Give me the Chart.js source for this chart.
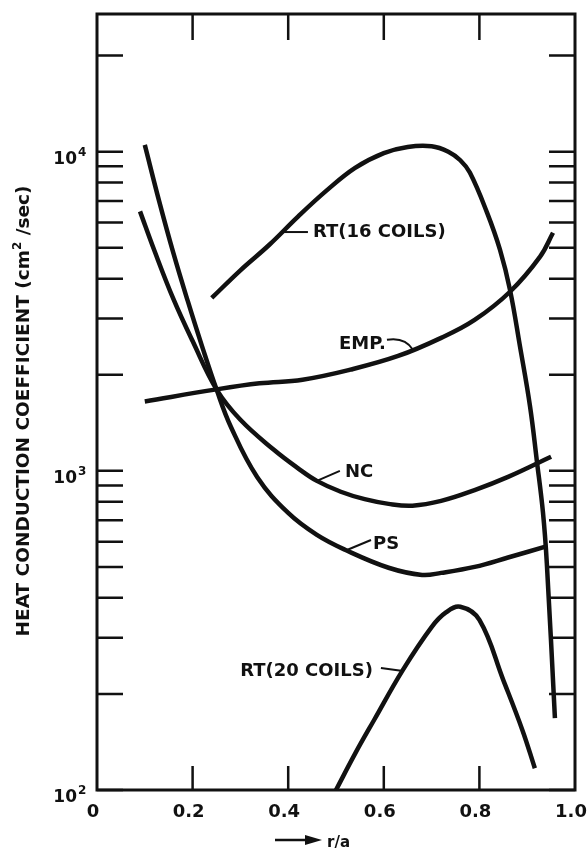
<!DOCTYPE html>
<html>
<head>
<meta charset="utf-8">
<script src="https://cdn.jsdelivr.net/npm/chart.js@4.4.1/dist/chart.umd.min.js"></script>
<style>
  html, body { margin: 0; padding: 0; background: #fff; }
  canvas { display: block; }
</style>
</head>
<body>
<canvas id="heatChart" width="588" height="854"></canvas>
<script>
'use strict';

/* data */
var psX = [0.10, 0.13, 0.16, 0.19, 0.22, 0.25, 0.28, 0.335, 0.40, 0.46, 0.52, 0.61, 0.68, 0.72, 0.79, 0.86, 0.94];
var psY = [10500, 7000, 4800, 3400, 2450, 1800, 1375, 957, 738, 630, 565, 497, 472, 479, 500, 535, 580];

var ncX = [0.09, 0.12, 0.16, 0.20, 0.25, 0.30, 0.37, 0.42, 0.46, 0.51, 0.56, 0.61, 0.66, 0.72, 0.79, 0.86, 0.95];
var ncY = [6500, 4900, 3450, 2550, 1800, 1445, 1164, 1020, 930, 860, 815, 788, 778, 805, 870, 957, 1107];

var empX = [0.10, 0.25, 0.34, 0.43, 0.53, 0.63, 0.72, 0.79, 0.864, 0.927, 0.954];
var empY = [1650, 1800, 1880, 1930, 2075, 2290, 2610, 2970, 3640, 4690, 5570];

var rt16X = [0.24, 0.30, 0.36, 0.42, 0.48, 0.54, 0.60, 0.65, 0.70, 0.735, 0.76, 0.78, 0.816, 0.843, 0.864, 0.885, 0.906, 0.92, 0.933, 0.941, 0.958];
var rt16Y = [3480, 4250, 5100, 6250, 7550, 8900, 9900, 10350, 10400, 10000, 9400, 8600, 6440, 4930, 3690, 2450, 1590, 1080, 740, 515, 168];

var rt20X = [0.50, 0.54, 0.58, 0.64, 0.70, 0.73, 0.76, 0.80, 0.85, 0.89, 0.916];
var rt20Y = [100, 130, 166, 238, 324, 360, 375, 341, 221, 154, 117];

var xTicks = [0, 0.2, 0.4, 0.6, 0.8, 1.0];
var xTickLabels = ['0', '0.2', '0.4', '0.6', '0.8', '1.0'];
var yMajor = [100, 1000, 10000];
var yMajorExp = ['2', '3', '4'];
var yMinor = [200, 300, 400, 500, 600, 700, 800, 900,
              2000, 3000, 4000, 5000, 6000, 7000, 8000, 9000, 20000];

var yTitle = ['HEAT CONDUCTION COEFFICIENT (cm', '2', ' /sec)'];
var xTitle = 'r/a';

function pts(xs, ys) {
  return xs.map(function(x, i) { return {x: x, y: ys[i]}; });
}

var INK = '#111';
var FONT = '"DejaVu Sans", sans-serif';

/* curve labels: anchor on curve (data), leader and text offsets in px */
var curveLabels = [
  {text: 'RT(16 COILS)', x: 0.389, y: 5600, lead: [25, 0], tx: 30, ty: 0, align: 'left'},
  {text: 'EMP.', x: 0.661, y: 2395, curl: true, tx: -27, ty: -5, align: 'right'},
  {text: 'NC', x: 0.46, y: 930, lead: [23, -10], tx: 28, ty: -9, align: 'left'},
  {text: 'PS', x: 0.523, y: 565, lead: [24, -10], tx: 26, ty: -6, align: 'left'},
  {text: 'RT(20 COILS)', x: 0.640, y: 236, lead: [-22, -3], tx: -30, ty: 0, align: 'right'}
];

var decor = {
  id: 'decor',
  afterDraw: function(chart) {
    var ctx = chart.ctx;
    var a = chart.chartArea;
    var xs = chart.scales.x, ys = chart.scales.y;
    ctx.save();
    ctx.strokeStyle = INK;
    ctx.fillStyle = INK;
    ctx.lineCap = 'butt';

    // frame
    ctx.lineWidth = 3;
    ctx.strokeRect(a.left, a.top, a.right - a.left, a.bottom - a.top);

    // inside ticks, left + right
    ctx.lineWidth = 2.5;
    yMajor.concat(yMinor).forEach(function(v) {
      var py = ys.getPixelForValue(v);
      ctx.beginPath();
      ctx.moveTo(a.left, py); ctx.lineTo(a.left + 26, py);
      ctx.moveTo(a.right, py); ctx.lineTo(a.right - 26, py);
      ctx.stroke();
    });
    // inside ticks, top + bottom
    xTicks.slice(1, -1).forEach(function(v) {
      var px = xs.getPixelForValue(v);
      ctx.beginPath();
      ctx.moveTo(px, a.bottom); ctx.lineTo(px, a.bottom - 24);
      ctx.moveTo(px, a.top); ctx.lineTo(px, a.top + 26);
      ctx.stroke();
    });

    // x tick labels
    ctx.font = 'bold 18px ' + FONT;
    ctx.textAlign = 'center';
    ctx.textBaseline = 'alphabetic';
    xTicks.forEach(function(v, i) {
      ctx.fillText(xTickLabels[i], xs.getPixelForValue(v) - 4, a.bottom + 27);
    });

    // y tick labels 10^n
    yMajor.forEach(function(v, i) {
      var py = ys.getPixelForValue(v);
      ctx.font = 'bold 17px ' + FONT;
      ctx.textAlign = 'right';
      ctx.fillText('10', 77, py + 12);
      ctx.font = 'bold 12px ' + FONT;
      ctx.textAlign = 'left';
      ctx.fillText(yMajorExp[i], 78, py + 4);
    });

    // y title, rotated
    ctx.save();
    ctx.translate(29, 411);
    ctx.rotate(-Math.PI / 2);
    ctx.textAlign = 'left';
    var big = 'bold 18.5px ' + FONT, small = 'bold 12px ' + FONT;
    ctx.font = big;
    var w0 = ctx.measureText(yTitle[0]).width;
    var w2 = ctx.measureText(yTitle[2]).width;
    ctx.font = small;
    var w1 = ctx.measureText(yTitle[1]).width;
    var sx = -(w0 + w1 + w2) / 2;
    ctx.font = big;
    ctx.fillText(yTitle[0], sx, 0);
    ctx.font = small;
    ctx.fillText(yTitle[1], sx + w0, -8);
    ctx.font = big;
    ctx.fillText(yTitle[2], sx + w0 + w1, 0);
    ctx.restore();

    // x title with arrow
    ctx.lineWidth = 2.5;
    ctx.beginPath();
    ctx.moveTo(275, 840); ctx.lineTo(310, 840);
    ctx.stroke();
    ctx.beginPath();
    ctx.moveTo(322, 840); ctx.lineTo(305, 835); ctx.lineTo(305, 845);
    ctx.closePath(); ctx.fill();
    ctx.font = 'bold 15px ' + FONT;
    ctx.textAlign = 'left';
    ctx.fillText(xTitle, 327, 847);

    // curve labels
    ctx.font = 'bold 18px ' + FONT;
    ctx.textBaseline = 'middle';
    ctx.lineWidth = 2;
    curveLabels.forEach(function(l) {
      var px = xs.getPixelForValue(l.x), py = ys.getPixelForValue(l.y);
      ctx.beginPath();
      if (l.curl) {
        ctx.moveTo(px - 26, py - 10);
        ctx.quadraticCurveTo(px - 8, py - 13, px, py);
      } else {
        ctx.moveTo(px, py);
        ctx.lineTo(px + l.lead[0], py + l.lead[1]);
      }
      ctx.stroke();
      ctx.textAlign = l.align;
      ctx.fillText(l.text, px + l.tx, py + l.ty);
    });
    ctx.restore();
  }
};

function line(xs, ys) {
  return {
    data: pts(xs, ys),
    borderColor: INK,
    borderWidth: 4.5,
    pointRadius: 0,
    fill: false,
    tension: 0.4
  };
}

var ctx = document.getElementById('heatChart').getContext('2d');
var heatChart = new Chart(ctx, {
  type: 'line',
  data: {
    datasets: [
      line(psX, psY),
      line(ncX, ncY),
      line(empX, empY),
      line(rt16X, rt16Y),
      line(rt20X, rt20Y)
    ]
  },
  options: {
    responsive: false,
    devicePixelRatio: 1,
    animation: false,
    layout: { padding: { left: 97, right: 13, top: 14, bottom: 64 } },
    scales: {
      x: { type: 'linear', min: 0, max: 1, display: false },
      y: { type: 'logarithmic', min: 100, max: 27000, display: false }
    },
    plugins: {
      legend: { display: false },
      tooltip: { enabled: false }
    }
  },
  plugins: [decor]
});
</script>
</body>
</html>
